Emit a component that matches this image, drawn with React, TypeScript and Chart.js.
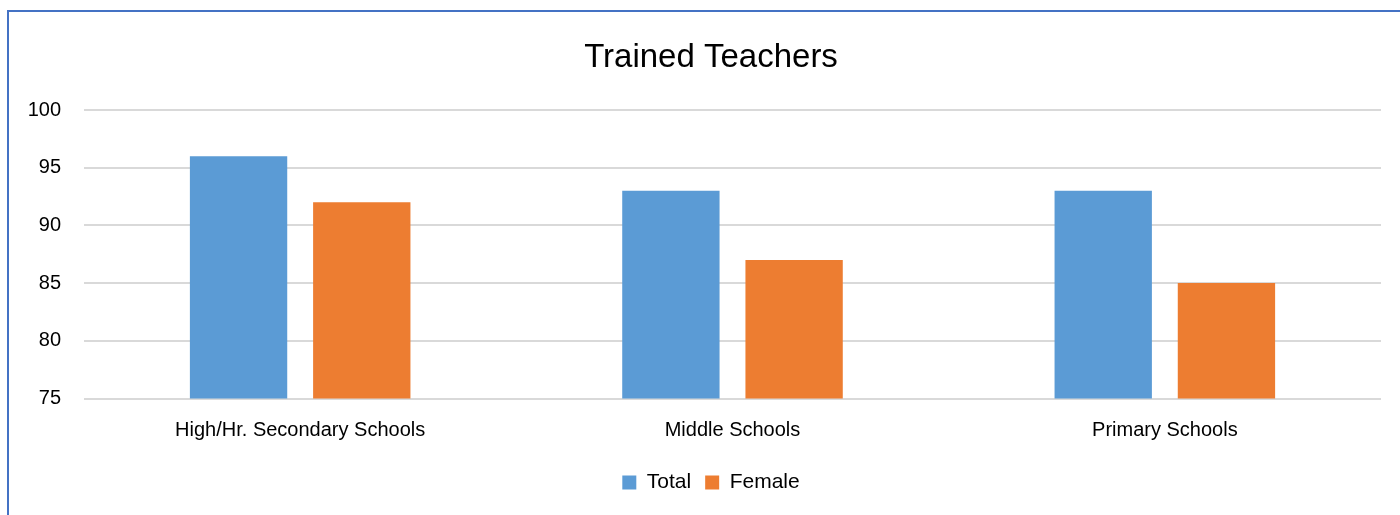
import React, { useEffect, useRef } from "react";
import { Chart, registerables } from "chart.js";

Chart.register(...registerables);

const categories = ["High/Hr. Secondary Schools", "Middle Schools", "Primary Schools"];
const totalValues = [96, 93, 93];
const femaleValues = [92, 87, 85];
const yTicks = [75, 80, 85, 90, 95, 100];

const FONT = "'Liberation Sans', 'Open Sans', sans-serif";
const W = 1422;
const H = 515;

export default function App() {
  const ref = useRef<HTMLCanvasElement | null>(null);
  useEffect(() => {
    if (!ref.current) return;
    const chart = new Chart(ref.current, {
      type: "bar",
      data: {
        labels: categories,
        datasets: [
          { label: "Total", data: totalValues, backgroundColor: "#5B9BD5", categoryPercentage: 0.57, barPercentage: 0.79 },
          { label: "Female", data: femaleValues, backgroundColor: "#ED7D31", categoryPercentage: 0.57, barPercentage: 0.79 },
        ],
      },
      options: {
        animation: false,
        responsive: false,
        layout: { padding: { left: 41, right: W - 1381, top: 0, bottom: 12 } },
        plugins: {
          title: {
            display: true,
            text: "Trained Teachers",
            color: "#000",
            font: { family: FONT, size: 33, weight: "normal" },
            padding: { top: 38, bottom: 32.4 },
          },
          legend: {
            position: "bottom",
            labels: {
              color: "#000",
              font: { family: FONT, size: 21 },
              boxWidth: 14,
              boxHeight: 14,
              padding: 14,
            },
          },
          tooltip: { enabled: false },
        },
        scales: {
          x: {
            grid: { display: false },
            border: { display: false },
            ticks: { color: "#000", font: { family: FONT, size: 20 }, padding: 12, maxRotation: 0 },
            afterFit: (s: any) => { s.height = 59.5; },
          },
          y: {
            min: 75,
            max: 100,
            afterBuildTicks: (s: any) => { s.ticks = yTicks.map((v) => ({ value: v })); },
            grid: { color: "#D9D9D9", lineWidth: 2, drawTicks: false },
            border: { display: false },
            ticks: { color: "#000", font: { family: FONT, size: 20 }, padding: 23 },
            afterFit: (s: any) => {
              s.width = 43;
              s._computeLabelArea = () => undefined;
            },
          },
        },
      },
    });
    return () => chart.destroy();
  }, []);
  return (
    <>
      <div style={{ position: "fixed", left: 0, top: 0, width: W, height: H, background: "#fff" }}>
        <canvas ref={ref} width={W} height={H} style={{ width: W, height: H, display: "block" }} />
      </div>
      <div
        style={{
          position: "fixed",
          left: 7,
          top: 10,
          width: 1420,
          height: 520,
          borderTop: "2px solid #4472C4",
          borderLeft: "2px solid #4472C4",
          pointerEvents: "none",
        }}
      />
    </>
  );
}
